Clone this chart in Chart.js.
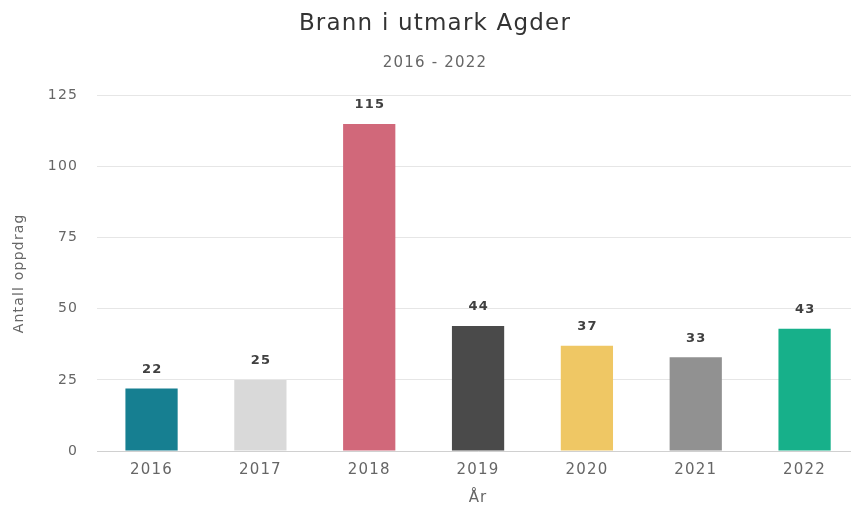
<!DOCTYPE html>
<html>
<head>
<meta charset="utf-8">
<script src="https://cdn.jsdelivr.net/npm/chart.js@4/dist/chart.umd.min.js"></script>
<style>
html,body{margin:0;padding:0;background:#fff;overflow:hidden;}
#wrap{width:860px;height:507px;position:relative;}
</style>
</head>
<body>
<div id="wrap"><canvas id="c" width="860" height="507"></canvas></div>
<script>
const categories = ["2016","2017","2018","2019","2020","2021","2022"];
const values = [22, 25, 115, 44, 37, 33, 43];
const barColors = ["#167f91","#d9d9d9","#d1687a","#4a4a4a","#efc764","#919191","#17b08a"];
const chartTitle = "Brann i utmark Agder";
const chartSubtitle = "2016 - 2022";
const yTitle = "Antall oppdrag";
const xTitle = "År";

const FONT = "'DejaVu Sans', Verdana, sans-serif";

const spacing = {
  id: 'spacing',
  beforeLayout(chart) { chart.ctx.letterSpacing = '1.2px'; },
  beforeDraw(chart) { chart.ctx.letterSpacing = '1.2px'; }
};

const valueLabels = {
  id: 'valueLabels',
  afterDatasetsDraw(chart) {
    const ctx = chart.ctx;
    const meta = chart.getDatasetMeta(0);
    ctx.save();
    ctx.font = "bold 13px " + FONT;
    ctx.fillStyle = "#404040";
    ctx.textAlign = "center";
    ctx.textBaseline = "middle";
    meta.data.forEach((el, i) => {
      ctx.fillText(String(chart.data.datasets[0].data[i]), el.x + 0.6, el.y - 19);
    });
    ctx.restore();
  }
};

new Chart(document.getElementById('c'), {
  type: 'bar',
  data: {
    labels: categories,
    datasets: [{
      data: values,
      backgroundColor: barColors,
      borderWidth: 0,
      barPercentage: 0.48,
      categoryPercentage: 1.0
    }]
  },
  options: {
    responsive: false,
    animation: false,
    layout: { padding: { left: 11, right: 1, top: 0, bottom: 0 } },
    plugins: {
      legend: { display: false },
      tooltip: { enabled: false },
      title: {
        display: true, text: chartTitle, color: "#333333",
        font: { family: FONT, size: 23, weight: 'normal' },
        padding: { top: 10, bottom: 17 }
      },
      subtitle: {
        display: true, text: chartSubtitle, color: "#666666",
        font: { family: FONT, size: 15, weight: 'normal' },
        padding: { top: 0, bottom: 23 }
      }
    },
    scales: {
      x: {
        grid: { display: false, drawTicks: false },
        border: { display: true, color: "#d0d0d0", width: 1 },
        ticks: { color: "#666666", font: { family: FONT, size: 15 }, padding: 10 },
        title: { display: true, text: xTitle, color: "#666666", font: { family: FONT, size: 15 }, padding: { top: 0, bottom: 0 } }
      },
      y: {
        min: 0, max: 125,
        ticks: { stepSize: 25, color: "#666666", font: { family: FONT, size: 14 }, padding: 19 },
        grid: { color: "#e6e6e6", drawTicks: false },
        border: { display: false },
        title: { display: true, text: yTitle, color: "#666666", font: { family: FONT, size: 14 }, padding: { top: 0, bottom: 1 } }
      }
    }
  },
  plugins: [spacing, valueLabels]
});
</script>
</body>
</html>
